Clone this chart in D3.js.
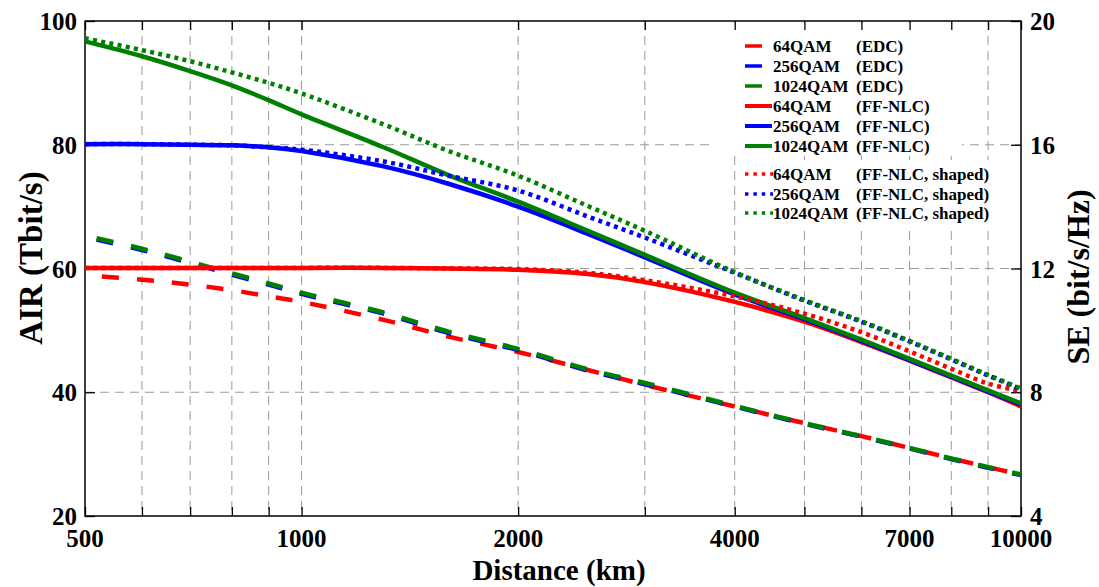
<!DOCTYPE html>
<html>
<head>
<meta charset="utf-8">
<script src="https://cdn.jsdelivr.net/npm/d3@7"></script>
<style>
body{margin:0;background:#fff}
text{font-family:"Liberation Serif","Times New Roman",serif;font-weight:bold;fill:#000}
</style>
</head>
<body>
<svg id="chart" width="1099" height="587"></svg>
<script>
// distance in km, AIR in Tbit/s
const distances = [500, 600, 700, 800, 900, 1000, 1300, 1600, 2000, 2500, 3000, 4000, 5000, 6000, 7000, 8000, 9000, 10000];

const edc64    = [58.9, 58.2, 57.4, 56.5, 55.5, 54.6, 51.7, 49.0, 46.5, 43.6, 41.2, 37.7, 35.0, 32.9, 31.0, 29.3, 27.9, 26.7];
const edc256   = [65.1, 63.0, 60.9, 59.0, 57.4, 55.9, 52.7, 49.6, 46.8, 43.5, 41.3, 37.7, 34.9, 32.8, 30.9, 29.2, 27.8, 26.6];
const edc1024  = [65.3, 63.2, 61.1, 59.2, 57.6, 56.1, 52.9, 49.8, 47.0, 43.7, 41.5, 37.8, 35.0, 32.9, 31.0, 29.3, 27.9, 26.7];

const nlc64    = [60.1, 60.1, 60.1, 60.1, 60.1, 60.1, 60.1, 60.0, 59.8, 59.1, 57.8, 54.6, 51.4, 48.1, 45.1, 42.4, 40.0, 37.7];
const nlc256   = [80.1, 80.1, 80.0, 79.9, 79.6, 79.0, 76.5, 73.7, 70.0, 65.6, 61.8, 55.8, 51.8, 48.3, 45.2, 42.5, 40.1, 38.0];
const nlc1024  = [96.7, 94.3, 91.9, 89.6, 87.2, 84.9, 79.6, 75.1, 70.8, 66.1, 62.2, 56.1, 52.0, 48.5, 45.4, 42.7, 40.3, 38.2];

const shp64    = [60.1, 60.1, 60.1, 60.1, 60.1, 60.1, 60.1, 60.0, 59.9, 59.3, 58.1, 55.5, 52.7, 49.7, 46.6, 43.8, 41.4, 40.2];
const shp256   = [80.1, 80.1, 80.0, 79.9, 79.6, 79.2, 77.3, 75.0, 72.6, 68.4, 65.0, 59.3, 54.8, 51.4, 48.2, 45.3, 42.7, 40.5];
const shp1024  = [97.2, 95.3, 93.5, 91.7, 90.0, 88.3, 83.3, 79.0, 75.0, 70.1, 66.1, 59.4, 54.9, 51.5, 48.3, 45.4, 42.8, 40.6];

const xTickLabels = [500, 1000, 2000, 4000, 7000, 10000];
const xGrid = [600, 700, 800, 900, 1000, 2000, 3000, 4000, 5000, 6000, 7000, 8000, 9000];
const yTicks = [20, 40, 60, 80, 100];
const seTicks = [4, 8, 12, 16, 20];

const series = [
  {name:"64QAM",   tag:"(EDC)",              vals:edc64,   color:"#ff0000", kind:"dash", off:18},
  {name:"256QAM",  tag:"(EDC)",              vals:edc256,  color:"#0000ff", kind:"dash", off:23},
  {name:"1024QAM", tag:"(EDC)",              vals:edc1024, color:"#008000", kind:"dash", off:23},
  {name:"64QAM",   tag:"(FF-NLC)",           vals:nlc64,   color:"#ff0000", kind:"solid"},
  {name:"256QAM",  tag:"(FF-NLC)",           vals:nlc256,  color:"#0000ff", kind:"solid"},
  {name:"1024QAM", tag:"(FF-NLC)",           vals:nlc1024, color:"#008000", kind:"solid"},
  {name:"64QAM",   tag:"(FF-NLC, shaped)",   vals:shp64,   color:"#ff0000", kind:"dot"},
  {name:"256QAM",  tag:"(FF-NLC, shaped)",   vals:shp256,  color:"#0000ff", kind:"dot"},
  {name:"1024QAM", tag:"(FF-NLC, shaped)",   vals:shp1024, color:"#008000", kind:"dot"}
];

const svg = d3.select("#chart");
const L = 85, R = 1021, T = 21, B = 516;

const x = d3.scaleLog().domain([500, 10000]).range([L, R]);
const y = d3.scaleLinear().domain([20, 100]).range([B, T]);
const y2 = d3.scaleLinear().domain([4, 20]).range([B, T]);

// grid
const grid = svg.append("g").attr("stroke", "#9a9a9a").attr("stroke-width", 1).attr("stroke-dasharray", "9,6");
grid.selectAll(".gx").data(xGrid).enter().append("line")
  .attr("x1", d => x(d)).attr("x2", d => x(d)).attr("y1", T).attr("y2", B);
grid.selectAll(".gy").data([40, 60, 80]).enter().append("line")
  .attr("x1", L).attr("x2", R).attr("y1", d => y(d)).attr("y2", d => y(d));

// legend backgrounds hide the grid
svg.append("rect").attr("x", 714).attr("y", 23).attr("width", 248).attr("height", 131).attr("fill", "#fff");
svg.append("rect").attr("x", 738).attr("y", 160).attr("width", 256).attr("height", 66).attr("fill", "#fff");

// axes frame + ticks
function tickAxis(axis, tr){
  const g = svg.append("g").attr("transform", tr).call(axis);
  g.select(".domain").remove();
  g.selectAll("line").attr("stroke", "#000").attr("stroke-width", 1.3);
  g.selectAll("text").remove();
  return g;
}
const allX = [500].concat(xGrid).concat([10000]);
tickAxis(d3.axisBottom(x).tickValues(allX).tickSize(-9), `translate(0,${B})`);
tickAxis(d3.axisTop(x).tickValues(allX).tickSize(-9), `translate(0,${T})`);
tickAxis(d3.axisLeft(y).tickValues(yTicks).tickSize(-10), `translate(${L},0)`);
tickAxis(d3.axisRight(y2).tickValues(seTicks).tickSize(-10), `translate(${R},0)`);

svg.append("rect").attr("x", L).attr("y", T).attr("width", R - L).attr("height", B - T)
  .attr("fill", "none").attr("stroke", "#000").attr("stroke-width", 1.5);

// tick labels
svg.selectAll(".xl").data(xTickLabels).enter().append("text")
  .attr("x", d => x(d)).attr("y", 547).attr("text-anchor", "middle")
  .style("font-size", "25px").text(d => d);
svg.selectAll(".yl").data(yTicks).enter().append("text")
  .attr("x", 77).attr("y", d => y(d) + 9).attr("text-anchor", "end")
  .style("font-size", "25px").text(d => d);
svg.selectAll(".y2l").data(seTicks).enter().append("text")
  .attr("x", 1030).attr("y", d => y2(d) + 9).attr("text-anchor", "start")
  .style("font-size", "25px").text(d => d);

// axis titles
svg.append("text").attr("x", 559).attr("y", 580).attr("text-anchor", "middle")
  .style("font-size", "29px").text("Distance (km)");
svg.append("text").attr("transform", "translate(42,258) rotate(-90)").attr("text-anchor", "middle")
  .style("font-size", "33px").text("AIR (Tbit/s)");
svg.append("text").attr("transform", "translate(1089,277) rotate(-90)").attr("text-anchor", "middle")
  .style("font-size", "32px").text("SE (bit/s/Hz)");

// curves
const line = d3.line().x(d => x(d[0])).y(d => y(d[1])).curve(d3.curveCatmullRom.alpha(0.5));
const plot = svg.append("g");
series.forEach(s => {
  const p = plot.append("path")
    .datum(distances.map((d, i) => [d, s.vals[i]]))
    .attr("d", line).attr("fill", "none").attr("stroke", s.color);
  if (s.kind === "dash") p.attr("stroke-width", 4.5).attr("stroke-dasharray", "17,18").attr("stroke-dashoffset", s.off);
  else if (s.kind === "dot") p.attr("stroke-width", 4.5).attr("stroke-dasharray", "4,4.3");
  else p.attr("stroke-width", 4.5);
});

// legend
const legRows = [46, 66, 86, 106, 126, 146, 174, 194, 213];
const leg = svg.append("g");
series.forEach((s, i) => {
  const ly = legRows[i];
  const l = leg.append("line").attr("y1", ly).attr("y2", ly).attr("stroke", s.color).attr("x1", 745);
  if (s.kind === "dash") l.attr("x2", 762).attr("stroke-width", 3.5);
  else if (s.kind === "solid") l.attr("x2", 772).attr("stroke-width", 4);
  else l.attr("x2", 773).attr("stroke-width", 3.5).attr("stroke-dasharray", "3.4,5");
  leg.append("text").attr("x", 773).attr("y", ly + 6).style("font-size", "17px").text(s.name);
  leg.append("text").attr("x", 856).attr("y", ly + 6).style("font-size", "17px").text(s.tag);
});
</script>
</body>
</html>
